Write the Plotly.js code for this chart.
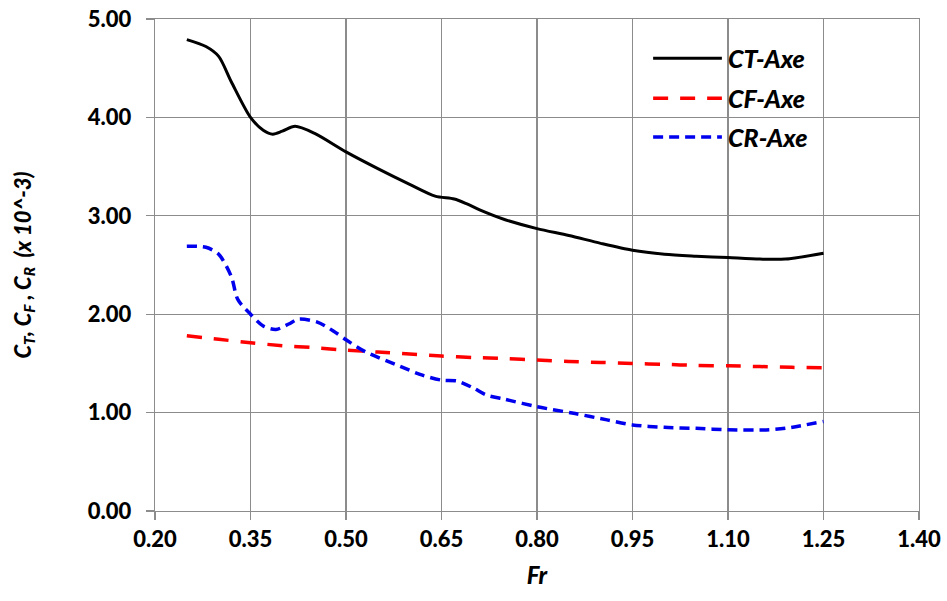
<!DOCTYPE html>
<html>
<head>
<meta charset="utf-8">
<script src="https://cdn.plot.ly/plotly-3.0.1.min.js"></script>
<style>html,body{margin:0;padding:0;background:#fff;}#chart{width:947px;height:601px;}</style>
</head>
<body>
<div id="chart"></div>
<script>
// Data
const frCT = [0.25, 0.28, 0.30, 0.32, 0.35, 0.37, 0.385, 0.40, 0.42, 0.45, 0.50, 0.55, 0.60, 0.64, 0.67, 0.69, 0.71, 0.75, 0.80, 0.85, 0.90, 0.95, 1.00, 1.05, 1.10, 1.15, 1.19, 1.25];
const ctAxe = [4.79, 4.72, 4.62, 4.36, 4.00, 3.87, 3.83, 3.86, 3.91, 3.84, 3.65, 3.48, 3.32, 3.20, 3.17, 3.12, 3.06, 2.96, 2.87, 2.80, 2.72, 2.65, 2.61, 2.59, 2.575, 2.56, 2.56, 2.62];

const frCF = [0.25, 0.30, 0.35, 0.40, 0.45, 0.50, 0.55, 0.60, 0.65, 0.70, 0.75, 0.80, 0.85, 0.90, 0.95, 1.00, 1.05, 1.10, 1.15, 1.20, 1.25];
const cfAxe = [1.78, 1.745, 1.71, 1.68, 1.66, 1.635, 1.615, 1.595, 1.575, 1.56, 1.55, 1.535, 1.52, 1.51, 1.50, 1.49, 1.48, 1.475, 1.468, 1.46, 1.455];

const frCR = [0.25, 0.28, 0.30, 0.32, 0.33, 0.35, 0.37, 0.39, 0.41, 0.425, 0.455, 0.48, 0.50, 0.53, 0.585, 0.62, 0.65, 0.675, 0.70, 0.72, 0.75, 0.80, 0.86, 0.91, 0.95, 1.00, 1.05, 1.10, 1.16, 1.19, 1.25];
const crAxe = [2.69, 2.68, 2.61, 2.38, 2.15, 2.00, 1.88, 1.845, 1.90, 1.95, 1.92, 1.83, 1.74, 1.62, 1.47, 1.38, 1.33, 1.32, 1.25, 1.18, 1.135, 1.06, 0.99, 0.926, 0.875, 0.85, 0.84, 0.825, 0.824, 0.84, 0.91];

const xTicks = [0.20, 0.35, 0.50, 0.65, 0.80, 0.95, 1.10, 1.25, 1.40];
const xTickLabels = ['0.20', '0.35', '0.50', '0.65', '0.80', '0.95', '1.10', '1.25', '1.40'];
const yTicks = [0, 1, 2, 3, 4, 5];
const yTickLabels = ['0.00', '1.00', '2.00', '3.00', '4.00', '5.00'];
const seriesNames = ['CT-Axe', 'CF-Axe', 'CR-Axe'];

const FONT = 'Lato, Carlito, "Open Sans", sans-serif';
const GRID = '#8c8c8c';

const styles = [
  {color: '#000000', dash: 'solid', width: 3},
  {color: '#ff0000', dash: '15px,12px', width: 3.5},
  {color: '#0000ee', dash: '10px,6px', width: 3.5}
];

const xs = [frCT, frCF, frCR];
const ys = [ctAxe, cfAxe, crAxe];

const traces = seriesNames.map((n, i) => ({
  x: xs[i], y: ys[i], name: n, type: 'scatter', mode: 'lines',
  line: {color: styles[i].color, dash: styles[i].dash, width: styles[i].width, shape: 'spline', smoothing: 0.8},
  showlegend: false
}));

// custom legend (longer line samples as in the reference)
const legX0 = 0.652, legX1 = 0.742, legTX = 0.748;
const legY = [0.920, 0.839, 0.760];
const shapes = [];
const annotations = [];
seriesNames.forEach((n, i) => {
  shapes.push({type: 'line', xref: 'paper', yref: 'paper', x0: legX0, x1: legX1, y0: legY[i], y1: legY[i],
    line: {color: styles[i].color, dash: styles[i].dash, width: styles[i].width}});
  annotations.push({xref: 'paper', yref: 'paper', x: legTX, y: legY[i], xanchor: 'left', yanchor: 'middle',
    text: '<i>' + n + '</i>', showarrow: false, font: {family: FONT, size: 25, color: '#000', weight: 900}});
});

const layout = {
  width: 947, height: 601,
  margin: {l: 155, r: 28, t: 19, b: 90},
  paper_bgcolor: '#ffffff', plot_bgcolor: '#ffffff',
  font: {family: FONT, color: '#000'},
  xaxis: {
    range: [0.20, 1.40], tickmode: 'array', tickvals: xTicks, ticktext: xTickLabels,
    showgrid: true, gridcolor: GRID, gridwidth: 1.3,
    showline: true, linecolor: GRID, linewidth: 1.3, mirror: true,
    ticks: 'outside', ticklen: 8, tickcolor: GRID, tickwidth: 1.3,
    tickfont: {family: FONT, size: 22, weight: 900, color: '#000'},
    zeroline: false,
    title: {text: '<i>Fr</i>', font: {family: FONT, size: 24, weight: 900, color: '#000'}, standoff: 16}
  },
  yaxis: {
    range: [0, 5], tickmode: 'array', tickvals: yTicks, ticktext: yTickLabels,
    showgrid: true, gridcolor: GRID, gridwidth: 1.3,
    showline: true, linecolor: GRID, linewidth: 1.3, mirror: true,
    ticks: 'outside', ticklen: 8, tickcolor: GRID, tickwidth: 1.3,
    tickfont: {family: FONT, size: 22, weight: 900, color: '#000'},
    ticklabelstandoff: 10,
    zeroline: false,
    title: {text: '<i>C<sub>T</sub>, C<sub>F</sub> , C<sub>R</sub>  (x 10^-3)</i>', font: {family: FONT, size: 22, weight: 900, color: '#000'}, standoff: 50}
  },
  shapes: shapes,
  annotations: annotations
};

Plotly.newPlot('chart', traces, layout, {displayModeBar: false, staticPlot: true});
</script>
</body>
</html>
